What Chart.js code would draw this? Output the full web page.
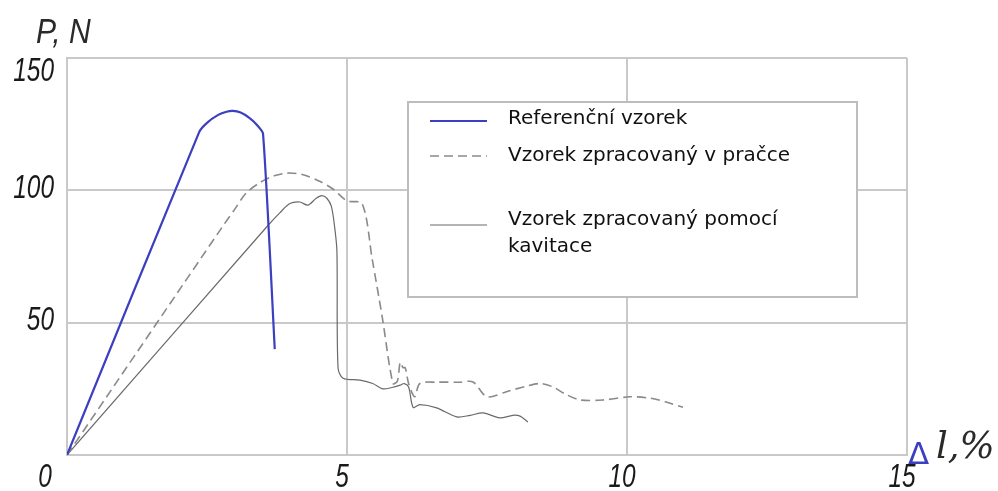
<!DOCTYPE html>
<html lang="cs">
<head>
  <meta charset="UTF-8">
  <title>P - Δl</title>
  <style>
    body {
      margin: 0;
      padding: 0;
      background: #fff;
    }
    #wrap {
      width: 998px;
      height: 491px;
    }
  </style>
</head>
<body>
  <div id="wrap">
    <canvas id="myChart" width="998" height="491"></canvas>
  </div>
  <script src="https://cdn.jsdelivr.net/npm/chart.js"></script>
  <script>
    // series names
    var seriesNames = ['Referenční vzorek', 'Vzorek zpracovaný v pračce', 'Vzorek zpracovaný pomocí kavitace'];

    // Referenční vzorek (blue)
    var refX = [0, 2.36, 2.5, 2.7, 2.85, 2.96, 3.1, 3.25, 3.38, 3.5, 3.71];
    var refY = [0, 122, 125.5, 128.5, 129.7, 130, 129.4, 127.5, 125, 121.5, 40];

    // Vzorek zpracovaný v pračce (dashed)
    var washX = [0, 2.8, 3.0, 3.2, 3.45, 3.7, 3.93, 4.2, 4.5, 4.75, 5.0, 5.27, 5.45, 5.63, 5.82, 5.9, 5.95, 6.0, 6.04, 6.1, 6.21, 6.3, 6.6, 7.0, 7.25, 7.5, 7.86, 8.2, 8.45, 8.68, 8.9, 9.16, 9.57, 10.05, 10.4, 10.7, 11.0];
    var washY = [0, 87, 93, 99, 103, 105.5, 106.5, 106, 103.5, 100.5, 96, 95, 74, 52, 27, 28, 35, 33, 33, 27, 22, 27, 27.5, 27.5, 27.6, 22, 24, 26, 27, 25.7, 23, 20.8, 20.8, 22, 21.5, 20, 18];

    // Vzorek zpracovaný pomocí kavitace (thin solid)
    var cavX = [0, 3.6, 3.8, 3.98, 4.16, 4.3, 4.45, 4.55, 4.64, 4.72, 4.78, 4.82, 4.84, 4.93, 5.23, 5.46, 5.64, 5.8, 5.95, 6.02, 6.1, 6.18, 6.3, 6.6, 6.96, 7.2, 7.43, 7.73, 7.96, 8.09, 8.23];
    var cavY = [0, 87, 91.5, 95, 95.6, 94.4, 97, 98, 97, 94, 86, 77, 33, 29, 28.3, 27, 25, 25.5, 26.4, 27, 25.7, 18, 19, 17.8, 14.4, 15, 15.9, 14, 15, 14.7, 12.5];

    // tick labels
    var xTicks = [0, 5, 10, 15];
    var yTicks = [50, 100, 150];

    function toPoints(xs, ys) {
      return xs.map(function(x, i) { return { x: x, y: ys[i] }; });
    }

    var gridColor = '#c9c9c9';

    // draw condensed italic text
    function squeezeText(ctx, text, x, y, align, size) {
      ctx.save();
      ctx.font = 'italic ' + size + 'px "Liberation Sans", Arial, sans-serif';
      ctx.textBaseline = 'middle';
      var sx = 0.74;
      var w = ctx.measureText(text).width * sx;
      var left = align === 'right' ? x - w : (align === 'center' ? x - w / 2 : x);
      ctx.translate(left, y);
      ctx.scale(sx, 1);
      ctx.textAlign = 'left';
      ctx.fillText(text, 0, 0);
      ctx.restore();
    }

    var labelsPlugin = {
      id: 'labelsPlugin',
      afterDraw: function(chart) {
        var ctx = chart.ctx;
        var xs = chart.scales.x;
        var ys = chart.scales.y;
        var area = chart.chartArea;
        ctx.save();
        ctx.fillStyle = '#1a1a1a';

        // y tick labels
        yTicks.forEach(function(v) {
          var py = Math.max(ys.getPixelForValue(v) - 2, area.top + 14);
          squeezeText(ctx, String(v), area.left - 13, py, 'right', 33);
        });

        // x tick labels
        xTicks.forEach(function(v) {
          var px = xs.getPixelForValue(v) - (v === 0 ? 22 : 5);
          squeezeText(ctx, String(v), px, area.bottom + 23, 'center', 33);
        });

        // axis titles
        ctx.font = 'italic 35px "Liberation Sans", Arial, sans-serif';
        ctx.textBaseline = 'alphabetic';
        ctx.textAlign = 'left';
        ctx.fillStyle = '#2a2a2a';
        ctx.save();
        ctx.translate(36, 43);
        ctx.scale(0.86, 1);
        ctx.fillText('P, N', 0, 0);
        ctx.restore();

        ctx.fillStyle = '#3b3fc0';
        ctx.font = '31px "DejaVu Sans", sans-serif';
        ctx.fillText('Δ', 908, 464);
        ctx.fillStyle = '#2a2a2a';
        ctx.font = 'italic 37px "DejaVu Serif", "Liberation Serif", serif';
        ctx.fillText('l,%', 936, 458);

        // legend box
        var lx = 408, ly = 102, lw = 449, lh = 195;
        ctx.fillStyle = '#fff';
        ctx.fillRect(lx, ly, lw, lh);
        ctx.strokeStyle = '#bdbdbd';
        ctx.lineWidth = 2;
        ctx.strokeRect(lx, ly, lw, lh);

        var rows = [
          { ds: 0, lineY: 121, lines: ['Referenční vzorek'], textY: 119 },
          { ds: 1, lineY: 156, lines: ['Vzorek zpracovaný v pračce'], textY: 156 },
          { ds: 2, lineY: 225, lines: ['Vzorek zpracovaný pomocí', 'kavitace'], textY: 220 }
        ];
        rows.forEach(function(r) {
          var ds = chart.data.datasets[r.ds];
          ctx.save();
          ctx.strokeStyle = ds.borderColor;
          ctx.lineWidth = ds.borderWidth;
          ctx.setLineDash(ds.borderDash || []);
          ctx.beginPath();
          ctx.moveTo(430, r.lineY);
          ctx.lineTo(487, r.lineY);
          ctx.stroke();
          ctx.restore();
          ctx.fillStyle = '#111';
          ctx.font = '20px "DejaVu Sans", sans-serif';
          ctx.textBaseline = 'middle';
          r.lines.forEach(function(t, i) {
            ctx.fillText(t, 508, r.textY + i * 27);
          });
        });
        ctx.restore();
      }
    };

    var ctx = document.getElementById('myChart').getContext('2d');
    var myChart = new Chart(ctx, {
      type: 'scatter',
      data: {
        datasets: [{
          label: seriesNames[0],
          data: toPoints(refX, refY),
          showLine: true,
          borderColor: '#3b3fc0',
          borderWidth: 2.2,
          pointRadius: 0,
          tension: 0.2
        }, {
          label: seriesNames[1],
          data: toPoints(washX, washY),
          showLine: true,
          borderColor: '#8a8a8a',
          borderWidth: 1.6,
          borderDash: [9, 5],
          pointRadius: 0,
          tension: 0.3
        }, {
          label: seriesNames[2],
          data: toPoints(cavX, cavY),
          showLine: true,
          borderColor: '#6a6a6a',
          borderWidth: 1.2,
          pointRadius: 0,
          tension: 0.3
        }]
      },
      options: {
        responsive: false,
        animation: false,
        layout: {
          padding: { left: 67, top: 58, right: 91, bottom: 36 }
        },
        plugins: {
          legend: { display: false },
          tooltip: { enabled: false }
        },
        scales: {
          x: {
            type: 'linear',
            min: 0,
            max: 15,
            ticks: { stepSize: 5, display: false },
            grid: { color: gridColor, lineWidth: 2, drawTicks: false },
            border: { color: gridColor, width: 2 }
          },
          y: {
            type: 'linear',
            min: 0,
            max: 150,
            ticks: { stepSize: 50, display: false },
            grid: { color: gridColor, lineWidth: 2, drawTicks: false },
            border: { color: gridColor, width: 2 }
          }
        }
      },
      plugins: [labelsPlugin]
    });
  </script>
</body>
</html>
